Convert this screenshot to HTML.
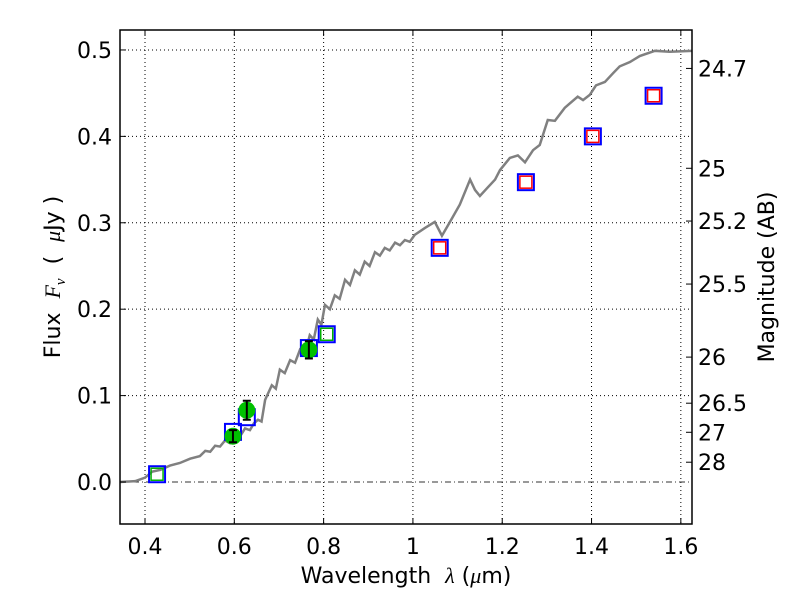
<!DOCTYPE html>
<html><head><meta charset="utf-8">
<style>
html,body{margin:0;padding:0;background:#fff;}
svg text{font-family:"DejaVu Sans","Liberation Sans",sans-serif;white-space:pre;}
</style></head>
<body>
<svg id="chart" width="800" height="600" xmlns="http://www.w3.org/2000/svg">
<rect width="800" height="600" fill="#fff"/>
<g id="grid"></g>
<g id="plot"></g>
<g id="axes"></g>
<text x="406" y="583" font-size="22" text-anchor="middle">Wavelength  <tspan font-family="Liberation Serif" font-style="italic">λ</tspan> (<tspan font-family="Liberation Serif" font-style="italic">μ</tspan>m)</text>
<text transform="translate(60,277) rotate(-90)" font-size="22" text-anchor="middle">Flux  <tspan font-family="Liberation Serif" font-style="italic">F</tspan><tspan font-family="Liberation Serif" font-style="italic" font-size="15" dy="5">ν</tspan><tspan dy="-5">  (  </tspan><tspan font-family="Liberation Serif" font-style="italic">μ</tspan>Jy )</text>
<text transform="translate(774,277) rotate(-90)" font-size="22" text-anchor="middle">Magnitude (AB)</text>
</svg>
<script>
const specWave=[0.344,0.378,0.400,0.416,0.434,0.456,0.478,0.501,0.523,0.535,0.546,0.557,0.568,0.579,0.590,0.601,0.613,0.624,0.635,0.644,0.653,0.661,0.669,0.684,0.693,0.702,0.713,0.725,0.736,0.747,0.758,0.769,0.778,0.787,0.795,0.803,0.814,0.825,0.836,0.848,0.859,0.870,0.881,0.892,0.903,0.915,0.926,0.937,0.948,0.960,0.971,0.982,0.993,1.004,1.027,1.049,1.065,1.083,1.105,1.128,1.139,1.150,1.166,1.184,1.195,1.217,1.235,1.251,1.269,1.284,1.302,1.318,1.340,1.351,1.369,1.381,1.396,1.410,1.430,1.448,1.463,1.486,1.508,1.542,1.575,1.625];
const specFlux=[0,0.001,0.005,0.012,0.014,0.019,0.022,0.027,0.030,0.036,0.035,0.042,0.041,0.048,0.045,0.054,0.053,0.062,0.060,0.068,0.072,0.070,0.095,0.112,0.108,0.130,0.126,0.141,0.138,0.153,0.148,0.170,0.165,0.188,0.182,0.205,0.200,0.216,0.212,0.234,0.228,0.245,0.240,0.255,0.250,0.266,0.262,0.271,0.268,0.277,0.274,0.280,0.278,0.286,0.294,0.301,0.285,0.301,0.321,0.350,0.338,0.331,0.340,0.350,0.361,0.375,0.378,0.370,0.384,0.390,0.419,0.418,0.433,0.438,0.446,0.442,0.448,0.459,0.463,0.473,0.481,0.486,0.493,0.499,0.498,0.499];
const blueWave=[0.427,0.597,0.628,0.767,0.807,1.060,1.253,1.403,1.539];
const blueFlux=[0.009,0.058,0.075,0.155,0.171,0.271,0.347,0.400,0.447];
const greenSqWave=[0.427,0.807];
const greenSqFlux=[0.009,0.171];
const redWave=[1.060,1.253,1.403,1.539];
const redFlux=[0.271,0.347,0.400,0.447];
const detWave=[0.597,0.628,0.767];
const detFlux=[0.053,0.083,0.153];
const detErr=[0.007,0.011,0.010];
const xTicks=[0.4,0.6,0.8,1.0,1.2,1.4,1.6];
const xTickLabels=["0.4","0.6","0.8","1","1.2","1.4","1.6"];
const yTicks=[0.0,0.1,0.2,0.3,0.4,0.5];
const yTickLabels=["0.0","0.1","0.2","0.3","0.4","0.5"];
const magTicks=[24.7,25,25.2,25.5,26,26.5,27,28];

const L=120,R=692,T=30,B=524,X0=0.344,X1=1.625,Y0=-0.0486,Y1=0.5231;
const sx=v=>L+(v-X0)/(X1-X0)*(R-L);
const sy=v=>B-(v-Y0)/(Y1-Y0)*(B-T);
const NS="http://www.w3.org/2000/svg";
function mk(tag,parent,attrs){const e=document.createElementNS(NS,tag);for(const k in attrs)e.setAttribute(k,attrs[k]);parent.appendChild(e);return e;}
const grid=document.getElementById('grid'),plot=document.getElementById('plot'),axes=document.getElementById('axes');

xTicks.forEach((t,i)=>{
 const x=sx(t);
 const g=mk('line',grid,{x1:x,x2:x,y1:T,y2:B,stroke:'#000','stroke-width':1,'stroke-dasharray':'1,3'});
 
 const a=mk('line',axes,{x1:x,x2:x,y1:B,y2:B-6,stroke:'#000'});
 
 const b=mk('line',axes,{x1:x,x2:x,y1:T,y2:T+6,stroke:'#000'});
 
 const tx=mk('text',axes,{x:x,y:B+30,'font-size':22,'text-anchor':'middle'});tx.textContent=xTickLabels[i];
 
});
yTicks.forEach((t,i)=>{
 const y=sy(t);
 if(t!==0){const g=mk('line',grid,{x1:L,x2:R,y1:y,y2:y,stroke:'#000','stroke-width':1,'stroke-dasharray':'1,3'});
 }
 const a=mk('line',axes,{x1:L,x2:L+6,y1:y,y2:y,stroke:'#000'});
 
 const tx=mk('text',axes,{x:L-8,y:y+8,'font-size':22,'text-anchor':'end'});tx.textContent=yTickLabels[i];
 
});
const zl=mk('line',grid,{x1:L,x2:R,y1:sy(0),y2:sy(0),stroke:'#333','stroke-width':1,'stroke-dasharray':'6,3,1,3'});

magTicks.forEach(m=>{
 const f=Math.pow(10,(23.9-m)/2.5);const y=sy(f);
 const a=mk('line',axes,{x1:R-6,x2:R,y1:y,y2:y,stroke:'#000'});
 
 const tx=mk('text',axes,{x:R+6,y:y+8,'font-size':22});tx.textContent=String(m);
 
});
const fr=mk('rect',axes,{x:L,y:T,width:R-L,height:B-T,fill:'none',stroke:'#000','stroke-width':1.5});


const sp=mk('polyline',plot,{points:specWave.map((w,i)=>sx(w)+','+sy(specFlux[i])).join(' '),fill:'none',stroke:'#808080','stroke-width':2.5});


blueWave.forEach((w,i)=>{const x=sx(w),y=sy(blueFlux[i]);
 const r=mk('rect',plot,{x:x-8,y:y-8,width:16,height:16,fill:'none',stroke:'#0000ff','stroke-width':2});
 });
greenSqWave.forEach((w,i)=>{const x=sx(w),y=sy(greenSqFlux[i]);
 const r=mk('rect',plot,{x:x-6,y:y-6,width:12,height:12,fill:'none',stroke:'#00b000','stroke-width':1.5});
 });
redWave.forEach((w,i)=>{const x=sx(w),y=sy(redFlux[i]);
 const r=mk('rect',plot,{x:x-6,y:y-6,width:12,height:12,fill:'none',stroke:'#ff0000','stroke-width':1.5});
 });
detWave.forEach((w,i)=>{const x=sx(w),y=sy(detFlux[i]);
 const c=mk('circle',plot,{cx:x,cy:y,r:8.5,fill:'#00c000'});
 
 const y1=sy(detFlux[i]+detErr[i]),y2=sy(detFlux[i]-detErr[i]);
 const e=mk('path',plot,{d:`M${x},${y1}V${y2}M${x-4},${y1}H${x+4}M${x-4},${y2}H${x+4}`,stroke:'#000','stroke-width':2,fill:'none'});
 });
</script>
</body></html>
